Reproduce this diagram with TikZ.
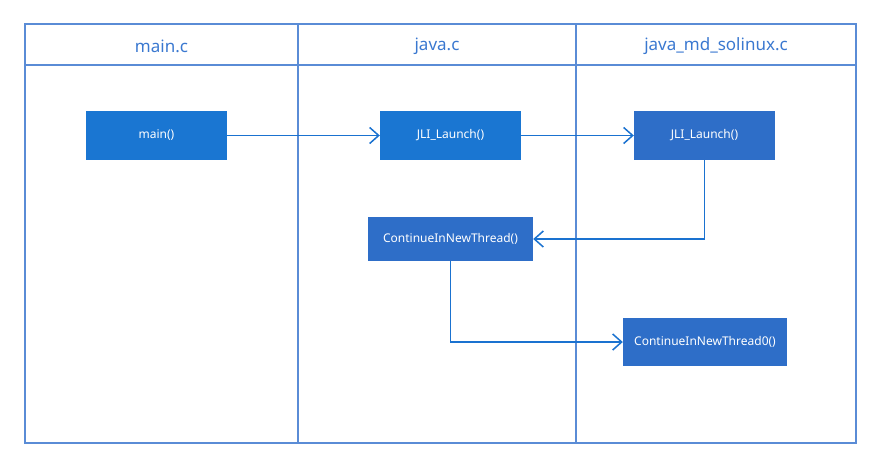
\documentclass[tikz,border=0pt]{standalone}
\usepackage{fontspec}
\setmainfont{Noto Sans}
\usetikzlibrary{arrows.meta}
\definecolor{lanec}{HTML}{5A8CD6}
\definecolor{headc}{HTML}{3A78D0}
\definecolor{boxa}{HTML}{1A76D2}
\definecolor{boxb}{HTML}{2E6EC8}
\definecolor{arrc}{HTML}{1A72D0}
\tikzset{
  lane/.style={draw=lanec, line width=1.4pt},
  head/.style={text=headc, font=\fontsize{17}{20}\selectfont, anchor=center},
  fbox/.style={fill=#1, draw=none, text=white, font=\fontsize{12}{14}\selectfont, inner sep=0pt},
  link/.style={draw=arrc, line width=1.5pt, -{Straight Barb[length=9pt,width=16pt,line width=1.5pt]}},
}
\begin{document}
\begin{tikzpicture}[x=1pt,y=-1pt]
\useasboundingbox (0,0) rectangle (880,469);
% swimlane frame
\draw[lane] (25,24) rectangle (856,443);
\draw[lane] (25,65) -- (856,65);
\draw[lane] (298,24) -- (298,443);
\draw[lane] (576,24) -- (576,443);
\node[head] (h1) at (161.5,46) {main.c};
\node[head] (h2) at (437,46) {java.c};
\node[head] (h3) at (716,46) {java\_md\_solinux.c};
% boxes
\node[fbox=boxa, minimum width=141pt, minimum height=49pt] (main) at (156.5,135.5) {main()};
\node[fbox=boxa, minimum width=141pt, minimum height=49pt] (jli1) at (450.5,135.5) {JLI\_Launch()};
\node[fbox=boxb, minimum width=141pt, minimum height=49pt] (jli2) at (704.5,135.5) {JLI\_Launch()};
\node[fbox=boxb, minimum width=165pt, minimum height=44pt] (cnt) at (450.5,239) {ContinueInNewThread()};
\node[fbox=boxb, minimum width=164pt, minimum height=48pt] (cnt0) at (705,342) {ContinueInNewThread0()};
% connectors
\draw[link] (main.east) -- (jli1.west);
\draw[link] (jli1.east) -- (jli2.west);
\draw[link] (jli2.south) |- (cnt.east);
\draw[link] (cnt.south) |- (cnt0.west);
\end{tikzpicture}
\end{document}
